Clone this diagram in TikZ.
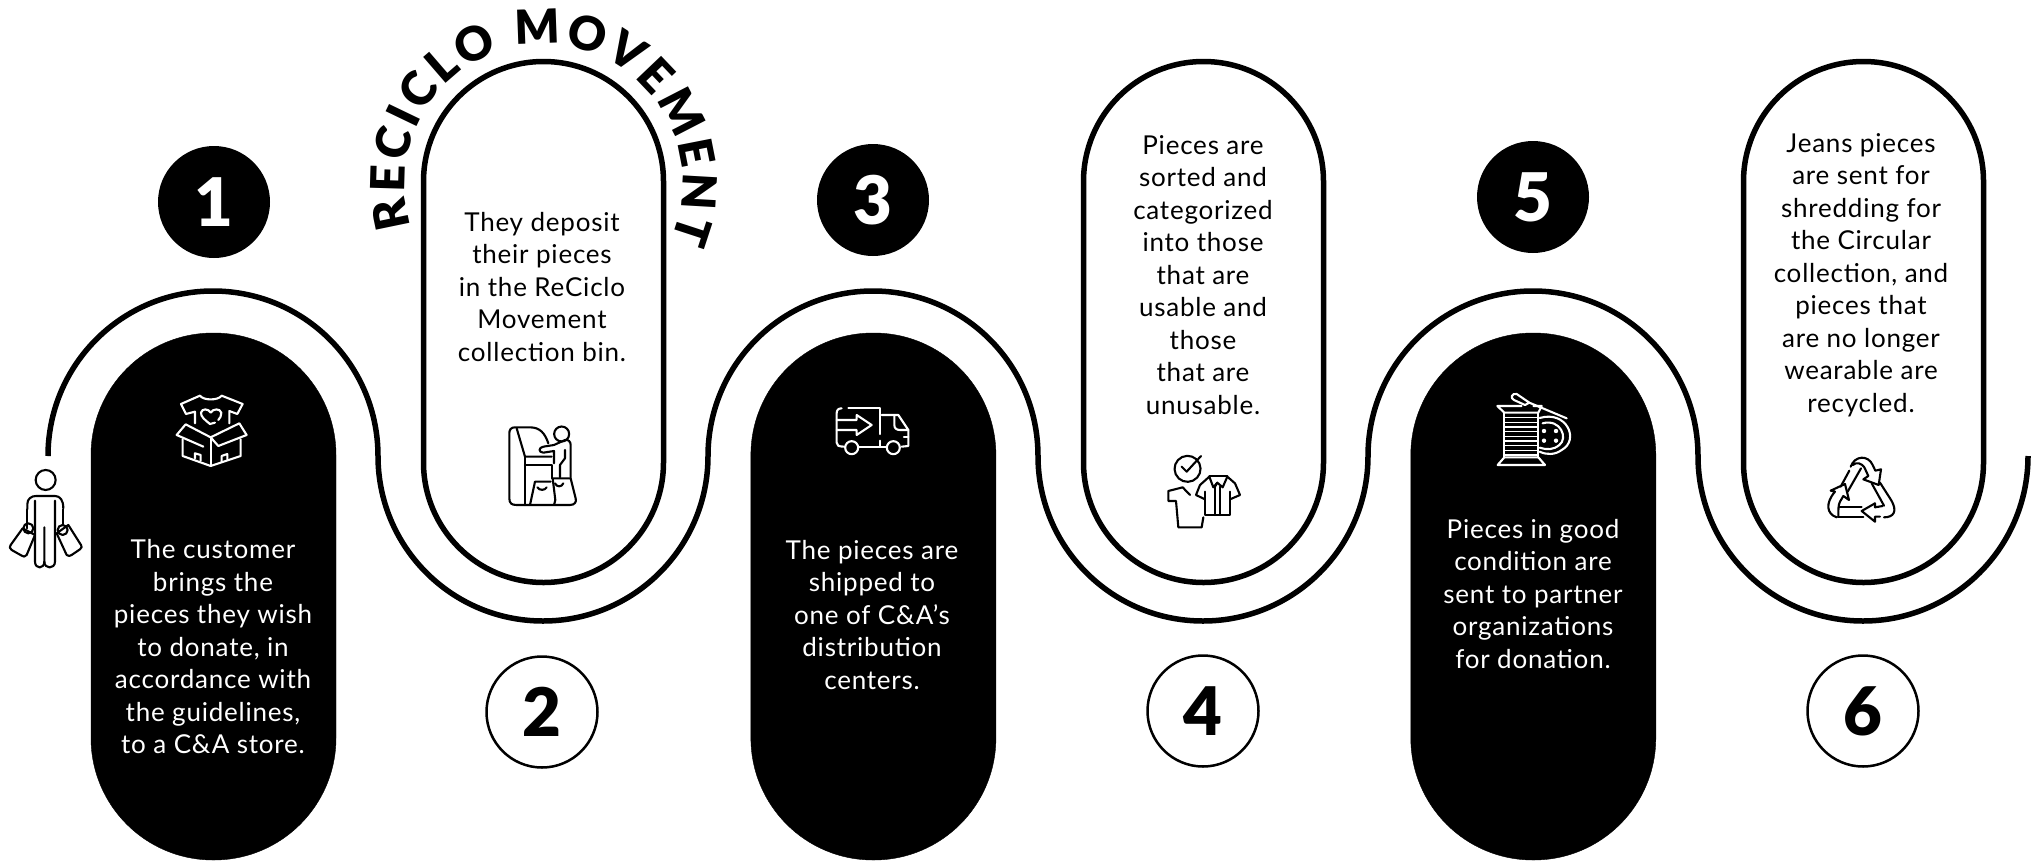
\documentclass[tikz,border=0pt]{standalone}
\usepackage{fontspec}
\usepackage{xcolor}
\usetikzlibrary{positioning,decorations.text}
\setmainfont{Lato}[LetterSpace=3]
\newfontfamily\numfont{Lato Black}
\newfontfamily\arcfont{Lato Black}

\begin{document}
\begin{tikzpicture}[
  x=1pt, y=-1pt,
  darkpill/.style={rectangle, draw=black, fill=black, rounded corners=122pt, minimum width=245pt, minimum height=527pt, inner sep=0pt},
  lightpill/.style={rectangle, draw=black, line width=5.5pt, fill=white, rounded corners=120pt, minimum width=240pt, minimum height=521pt, inner sep=0pt},
  darkdisc/.style={circle, fill=black, text=white, minimum size=112pt, inner sep=0pt, font=\numfont\fontsize{67}{67}\selectfont},
  lightdisc/.style={circle, draw=black, line width=2.5pt, fill=white, text=black, minimum size=111pt, inner sep=0pt, font=\numfont\fontsize{67}{67}\selectfont},
  darktext/.style={align=center, text=white, inner sep=0pt, font=\fontsize{26}{32.5}\selectfont},
  lighttext/.style={align=center, text=black, inner sep=0pt, font=\fontsize{26}{32.5}\selectfont},
  route/.style={draw=black, line width=5.5pt},
  iconunits/.style={x=.3333pt, y=-.3333pt},
  darkicon/.style={draw=white, line width=2.1pt, line cap=round, line join=round},
  lighticon/.style={draw=black, line width=2.1pt, line cap=round, line join=round},
  node distance=414.5pt and 414.5pt
]
  \useasboundingbox (0,0) rectangle (2035,860);

  \coordinate (routestart) at (48,456);
  \draw[route] (routestart) arc[start angle=180, end angle=0, radius=165pt]
    arc[start angle=180, end angle=360, radius=165pt]
    arc[start angle=180, end angle=0, radius=165pt]
    arc[start angle=180, end angle=360, radius=165pt]
    arc[start angle=180, end angle=0, radius=165pt]
    arc[start angle=180, end angle=360, radius=165pt];

  \node[darkpill] (pill1) at (213.5,596.5) {};
  \node[darkpill, right=of pill1] (pill3) {};
  \node[darkpill, right=of pill3] (pill5) {};
  \node[lightpill] (pill2) at (543.5,322) {};
  \node[lightpill, right=of pill2] (pill4) {};
  \node[lightpill, right=of pill4] (pill6) {};

  \node[darkdisc] (num1) at (214,202) {1};
  \node[lightdisc] (num2) at (542,712) {2};
  \node[darkdisc] (num3) at (873,200) {3};
  \node[lightdisc] (num4) at (1203,711) {4};
  \node[darkdisc] (num5) at (1533,197) {5};
  \node[lightdisc] (num6) at (1863,711) {6};

  \node[darktext] (text1) at (213,647) {The customer\\brings the\\pieces they wish\\to donate, in\\accordance with\\the guidelines,\\to a C\&A store.};
  \node[lighttext] (text2) at (542,287) {They deposit\\their pieces\\in the ReCiclo\\Movement\\collection bin.};
  \node[darktext] (text3) at (872,615) {The pieces are\\shipped to\\one of C\&A's\\distribution\\centers.};
  \node[lighttext] (text4) at (1203,275) {Pieces are\\sorted and\\categorized\\into those\\that are\\usable and\\those\\that are\\unusable.};
  \node[darktext] (text5) at (1533,594) {Pieces in good\\condition are\\sent to partner\\organizations\\for donation.};
  \node[lighttext] (text6) at (1861,275) {Jeans pieces\\are sent for\\shredding for\\the Circular\\collection, and\\pieces that\\are no longer\\wearable are\\recycled.};

  \coordinate (arcstart) at (411.3,226);
  \path[decorate, decoration={text along path, text={|\arcfont\fontsize{47}{47}\selectfont|RECICLO MOVEMENT}, text align={fit to path}}]
    (arcstart) arc[start angle=198, end angle=-24, radius=139pt];

  \begin{scope}[shift={(0,280)}, iconunits]
    \draw[lighticon] (137,600) circle[radius=10pt];
    \draw[lighticon] (82,688) -- (82,672) .. controls (82,656) and (95,648) .. (108,648) -- (165,648) .. controls (180,648) and (190,660) .. (190,685);
    \draw[lighticon] (105,662) -- (105,845) .. controls (105,868) and (133,868) .. (133,845) -- (133,742);
    \draw[lighticon] (133,845) .. controls (133,868) and (165,868) .. (165,845) -- (165,662);
    \draw[lighticon] (82,688) -- (82,745);
    \draw[lighticon] (190,688) -- (190,735);
    \draw[lighticon] (68,745) -- (105,765) -- (80,825) .. controls (75,832) and (70,830) .. (65,827) -- (35,810) .. controls (28,805) and (28,800) .. (32,795) -- cycle;
    \draw[lighticon] (85,745) circle[radius=5pt];
    \draw[lighticon] (205,735) -- (170,760) -- (200,825) .. controls (205,830) and (210,828) .. (215,825) -- (240,808) .. controls (246,803) and (246,800) .. (243,795) -- cycle;
    \draw[lighticon] (188,750) circle[radius=5pt];
  \end{scope}

  \begin{scope}[shift={(0,280)}, iconunits]
    \draw[darkicon] (585,430) -- (585,395) -- (558,402) -- (543,372) -- (600,347) .. controls (610,362) and (655,362) .. (665,347) -- (728,372) -- (712,402) -- (688,393) -- (688,430);
    \draw[darkicon] (645,428) -- (630,432) .. controls (615,420) and (602,410) .. (603,398) .. controls (606,385) and (625,385) .. (632,398) .. controls (640,385) and (660,385) .. (664,398) .. controls (665,408) and (660,414) .. (655,420);
    \draw[darkicon] (632,472) -- (632,558);
    \draw[darkicon] (548,478) -- (548,528) -- (632,558) -- (722,528) -- (722,478);
    \draw[darkicon] (632,472) -- (557,433) -- (530,465) -- (610,500);
    \draw[darkicon] (632,472) -- (718,430) -- (740,465) -- (655,498) -- cycle;
    \draw[darkicon] (585,535) -- (585,520) -- (602,525) -- (602,542);
    \draw[darkicon] (665,545) -- (665,528) -- (682,522) -- (682,538);
  \end{scope}

  \begin{scope}[shift={(480,400)}, iconunits]
    \draw[lighticon] (205,130) .. controls (195,100) and (180,82) .. (150,82) -- (105,82) .. controls (92,82) and (88,90) .. (88,100) -- (88,295) .. controls (88,310) and (95,315) .. (110,315) -- (270,315) .. controls (285,315) and (290,305) .. (287,295) -- (272,235) -- (218,235) -- (226,300) -- (222,315);
    \draw[lighticon] (110,85) -- (135,170) -- (215,170);
    \draw[lighticon] (135,170) -- (135,315);
    \draw[lighticon] (135,195) -- (215,195) -- (215,235);
    \draw[lighticon] (245,102) circle[radius=7.5pt];
    \draw[lighticon] (222,135) -- (190,140) .. controls (175,143) and (175,157) .. (190,158) -- (222,153) -- (222,190);
    \draw[lighticon] (222,135) -- (255,120) .. controls (265,118) and (272,125) .. (272,135) -- (272,232);
    \draw[lighticon] (255,150) -- (255,175) -- (240,195) -- (240,232);
    \draw[lighticon] (150,315) -- (165,245) -- (212,245);
    \draw[lighticon] (172,262) .. controls (178,272) and (195,272) .. (200,262);
    \draw[lighticon] (225,250) .. controls (230,262) and (245,262) .. (250,250);
  \end{scope}

  \begin{scope}[shift={(800,380)}, iconunits]
    \draw[darkicon] (145,85) -- (240,85) -- (240,162);
    \draw[darkicon] (240,182) -- (240,200);
    \draw[darkicon] (125,85) .. controls (115,85) and (110,90) .. (110,100) -- (110,188) .. controls (110,196) and (115,200) .. (133,200);
    \draw[darkicon] (110,120) -- (170,120) -- (170,105) -- (215,135) -- (170,165) -- (170,150) -- (110,150);
    \draw[darkicon] (175,200) -- (260,200);
    \draw[darkicon] (245,105) -- (295,105) -- (325,150) -- (325,198) -- (305,200);
    \draw[darkicon] (283,108) -- (283,135) .. controls (283,145) and (290,150) .. (300,150) -- (325,150);
    \draw[darkicon] (312,170) -- (325,170);
    \draw[darkicon] (155,203) circle[radius=6.5pt];
    \draw[darkicon] (280,203) circle[radius=6.5pt];
  \end{scope}

  \begin{scope}[shift={(1140,430)}, iconunits]
    \draw[lighticon] (178,100) arc[start angle=25, end angle=385, radius=13pt];
    \draw[lighticon] (125,110) -- (140,125) -- (183,78);
    \draw[lighticon] (150,195) -- (128,172) -- (85,183) -- (85,213) -- (108,213) -- (115,292) -- (185,292) -- (190,262);
    \draw[lighticon] (208,138) -- (262,138);
    \draw[lighticon] (208,140) -- (180,165) -- (168,195) -- (195,208);
    \draw[lighticon] (195,185) -- (195,255) -- (270,255) -- (270,185);
    \draw[lighticon] (262,140) -- (285,160) -- (300,195) -- (270,208);
    \draw[lighticon] (225,170) -- (225,255);
    \draw[lighticon] (240,170) -- (240,255);
    \draw[lighticon] (208,140) -- (220,172) -- (232,158) -- (248,172) -- (262,140);
    \draw[lighticon] (232,158) -- (225,170);
  \end{scope}

  \begin{scope}[shift={(1470,370)}, iconunits]
    \draw[darkicon] (155,108) -- (82,108) -- (103,128) -- (205,128) -- (215,108) -- (190,108);
    \draw[darkicon] (103,128) -- (103,262);
    \draw[darkicon] (205,128) -- (205,262);
    \draw[darkicon] (103,262) -- (83,285) -- (225,285) -- (205,262) -- cycle;
    \foreach \stripe in {143,157,171,185,199,213,227,241,255} {
      \draw[darkicon, line width=1.4pt, line cap=butt] (105,\stripe) -- (203,\stripe);
    }
    \draw[darkicon] (209,144) .. controls (290,120) and (330,210) .. (275,240) .. controls (255,255) and (230,255) .. (209,245);
    \draw[darkicon] (218,160) .. controls (272,145) and (295,205) .. (268,225) .. controls (250,240) and (230,240) .. (209,233);
    \foreach \holex/\holey in {222/183, 258/183, 222/212, 258/212} {
      \fill[white] (\holex,\holey) circle[radius=2.2pt];
    }
    \draw[darkicon] (290,145) -- (178,98);
    \draw[darkicon] (178,98) -- (140,72) .. controls (125,68) and (120,85) .. (132,90) -- (165,105) -- (178,98);
  \end{scope}

  \begin{scope}[shift={(1800,440)}, iconunits]
    \draw[lighticon] (122,140) -- (148,92);
    \draw[lighticon] (152,80) .. controls (165,45) and (205,45) .. (218,75) -- (226,92) -- (243,88) -- (236,135) -- (190,118) -- (205,108) -- (193,82) .. controls (185,70) and (170,65) .. (158,75);
    \draw[lighticon] (183,85) -- (143,155);
    \draw[lighticon] (215,130) -- (252,197);
    \draw[lighticon] (240,128) -- (272,178) .. controls (295,215) and (280,232) .. (252,232);
    \draw[lighticon] (110,232) .. controls (80,222) and (75,190) .. (105,155) -- (92,152) -- (135,132) -- (147,180) -- (130,168) -- (120,185) .. controls (115,195) and (115,205) .. (115,230);
    \draw[lighticon] (115,230) -- (190,230);
    \draw[lighticon] (118,202) -- (185,202);
    \draw[lighticon] (225,190) -- (185,213) -- (225,245) -- (225,230) -- (240,230);
    \draw[lighticon] (225,190) -- (225,202) -- (248,198);
  \end{scope}
\end{tikzpicture}
\end{document}
